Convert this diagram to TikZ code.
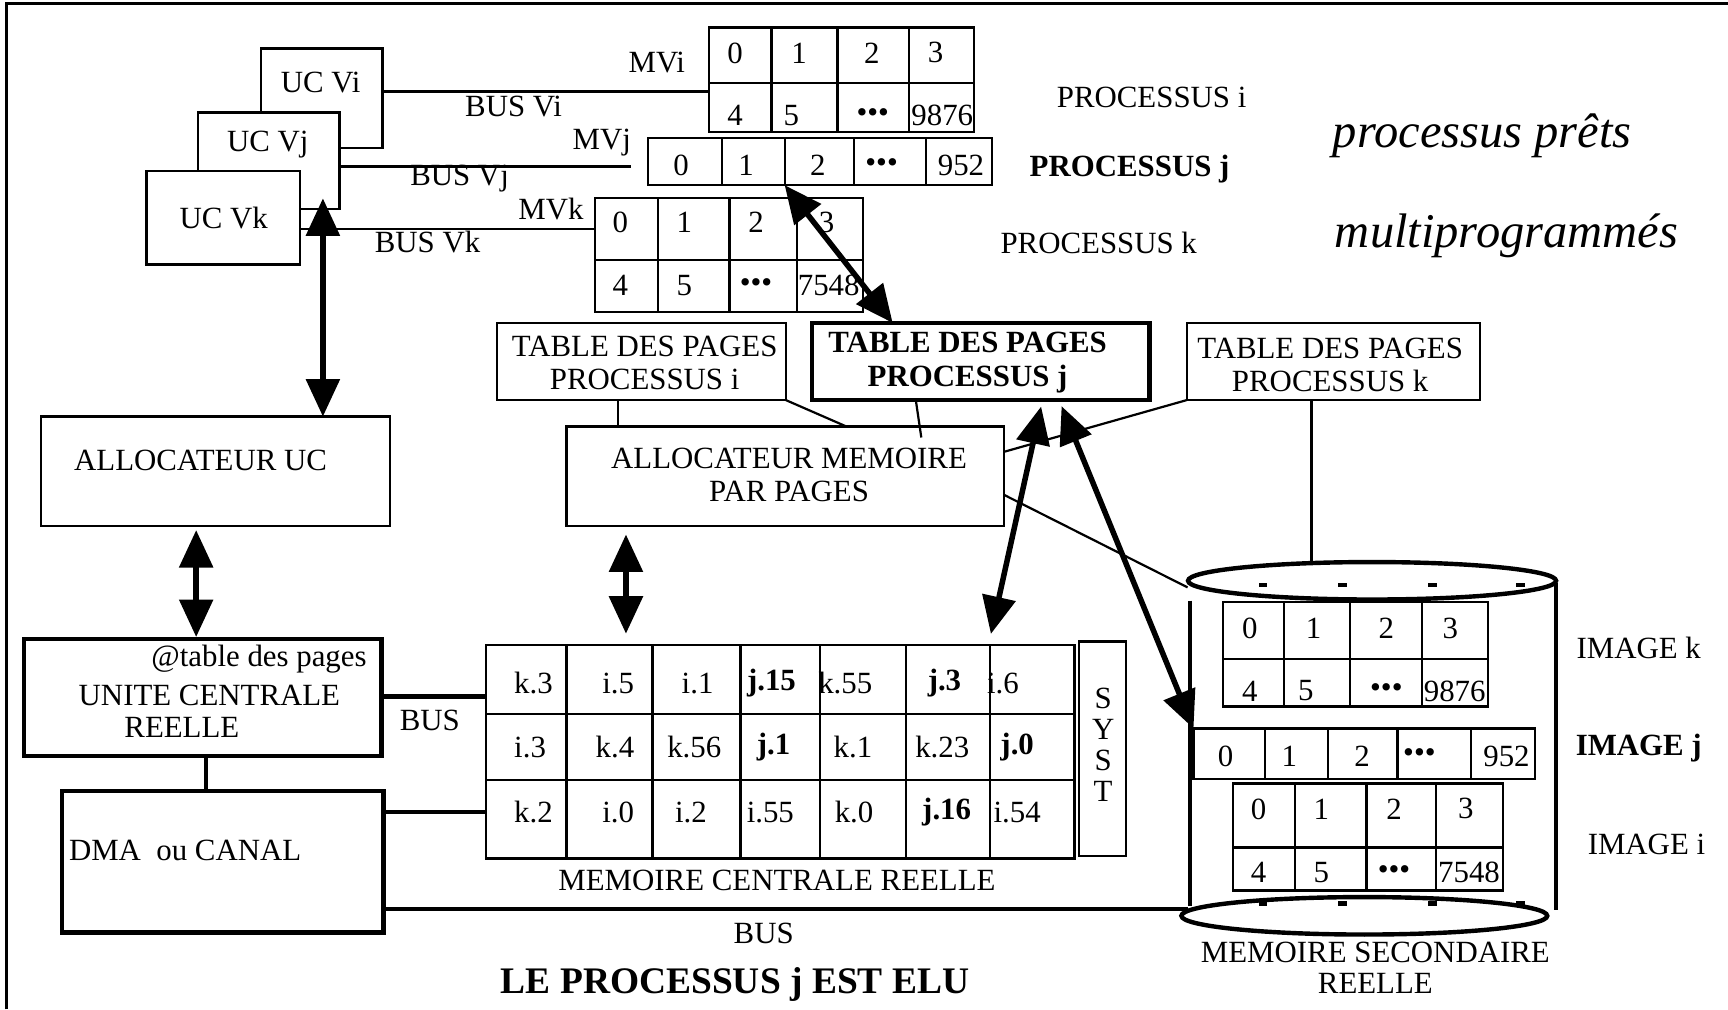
\documentclass[tikz,border=0pt]{standalone}
\usepackage{fontspec}
\setmainfont{Liberation Serif}
\usepackage{tikz}
\usetikzlibrary{arrows.meta,calc,fit,positioning}

\tikzset{
  plainbox/.style={draw,line width=1pt,fill=white,inner sep=0pt,outer sep=0pt},
  heavybox/.style={plainbox,line width=2pt},
  lbl/.style={inner sep=0pt,font=\fontsize{14}{15}\selectfont},
  boldlbl/.style={inner sep=0pt,font=\fontsize{14}{15}\selectfont\bfseries},
  bigit/.style={inner sep=0pt,font=\fontsize{22}{26}\selectfont\itshape},
  gridline/.style={line width=1pt},
  link/.style={line width=1pt},
  busline/.style={line width=2pt},
  dblarrow/.style={{Triangle[length=17pt,width=15pt]}-{Triangle[length=17pt,width=15pt]},line width=2.5pt},
}

\begin{document}
\begin{tikzpicture}[x=0.5pt,y=-0.5pt]
    \useasboundingbox (0,0) rectangle (1568,916);
    \draw[line width=1.5pt] (6,916) -- (6,3) -- (1568,3);

    % unites centrales virtuelles
    \node[plainbox,fit={(237,44) (347,134)}] (ucvi) {};
    \node[lbl] (tvi) at (291,75) {UC Vi};
    \node[plainbox,fit={(180,102) (308,190)}] (ucvj) {};
    \node[lbl] (tvj) at (243,131) {UC Vj};
    \node[plainbox,fit={(133,155) (272,240)}] (ucvk) {};
    \node[lbl] (tvk) at (203,198) {UC Vk};

    % memoires virtuelles
    \node[plainbox,fit={(643,25) (884,120)}] (mvi) {};
    \draw[gridline] (mvi.west |- 0,75) -- (mvi.east |- 0,75);
    \foreach \x in {700,760,825} \draw[gridline] (mvi.north -| \x,0) -- (mvi.south -| \x,0);
    \foreach \x/\t [count=\n] in {667/0,725/1,791/2,849/3} \node[lbl] (mvia\n) at (\x,48) {\t};
    \foreach \x/\t [count=\n] in {667/4,718/5,792/•••,855/9876} \node[lbl] (mvib\n) at (\x,105) {\t};

    \node[plainbox,fit={(588,125) (900,168)}] (mvj) {};
    \foreach \x in {655,712,775,840} \draw[gridline] (mvj.north -| \x,0) -- (mvj.south -| \x,0);
    \foreach \x/\t [count=\n] in {618/0,677/1,742/2,800/•••,872/952} \node[lbl] (mvja\n) at (\x,150) {\t};

    \node[plainbox,fit={(540,180) (783,283)}] (mvk) {};
    \draw[gridline] (mvk.west |- 0,236) -- (mvk.east |- 0,236);
    \foreach \x in {597,662,723} \draw[gridline] (mvk.north -| \x,0) -- (mvk.south -| \x,0);
    \foreach \x/\t [count=\n] in {563/0,621/1,686/2,750/3} \node[lbl] (mvka\n) at (\x,202) {\t};
    \foreach \x/\t [count=\n] in {563/4,621/5,686/•••,752/7548} \node[lbl] (mvkb\n) at (\x,259) {\t};

    \node[lbl] (lmvi) at (596,57) {MVi};
    \node[lbl] (lmvj) at (546,129) {MVj};
    \node[lbl] (lmvk) at (500,190) {MVk};
    \coordinate (mvjend) at (573,151);
    \draw[link] (ucvi.east |- 0,83) -- (mvi.west |- 0,83);
    \draw[link] (ucvj.east |- 0,151) -- (mvjend);
    \draw[link] (ucvk.east |- 0,208) -- (mvk.west |- 0,208);
    \node[lbl] (bvi) at (466,97) {BUS Vi};
    \node[lbl] (bvj) at (417,162) {BUS Vj};
    \node[lbl] (bvk) at (388,220) {BUS Vk};

    \node[lbl] (pi) at (1045,88) {PROCESSUS i};
    \node[boldlbl] (pj) at (1025,153) {PROCESSUS j};
    \node[lbl] (pk) at (997,220) {PROCESSUS k};
    \node[bigit] (prets) at (1345,123) {processus prêts};
    \node[bigit] (multi) at (1367,214) {multiprogrammés};

    % tables des pages et allocateurs
    \node[plainbox,fit={(451,293) (713,363)}] (tdpi) {};
    \node[lbl,align=center] (ttdpi) at (585,329) {TABLE DES PAGES\\PROCESSUS i};
    \node[heavybox,fit={(737,293) (1043,363)}] (tdpj) {};
    \node[boldlbl,align=center] (ttdpj) at (878,329) {TABLE DES PAGES\\PROCESSUS j};
    \node[plainbox,fit={(1077,293) (1343,363)}] (tdpk) {};
    \node[lbl,align=center] (ttdpk) at (1207,331) {TABLE DES PAGES\\PROCESSUS k};
    \node[plainbox,fit={(37,378) (354,477)}] (allocuc) {};
    \node[lbl] (tallocuc) at (182,418) {ALLOCATEUR UC};
    \node[plainbox,fit={(514,387) (911,477)}] (allocmem) {};
    \node[lbl,align=center] (tallocmem) at (716,431) {ALLOCATEUR MEMOIRE\\PAR PAGES};

    % machine reelle
    \node[heavybox,fit={(22,580) (346,686)}] (ucr) {};
    \node[lbl] (tadr) at (235,598) {@table des pages};
    \node[lbl] (tucr) at (190,631) {UNITE CENTRALE};
    \node[lbl] (tucr2) at (165,660) {REELLE};
    \node[heavybox,fit={(56,718) (348,846)}] (dma) {};
    \node[lbl] (tdma) at (168,772) {DMA\ \ ou CANAL};

    \node[plainbox,fit={(441,585) (975,779)}] (mem) {};
    \foreach \y in {648,708} \draw[gridline] (mem.west |- 0,\y) -- (mem.east |- 0,\y);
    \foreach \x in {514,592,672,744,822,898} \draw[gridline] (mem.north -| \x,0) -- (mem.south -| \x,0);
    \foreach \x/\t [count=\n] in {484/k.3,561/i.5,633/i.1,700/{\textbf{j.15}},767/k.55,857/{\textbf{j.3}},910/i.6}
      \node[lbl] (mema\n) at (\x,620) {\t};
    \foreach \x/\t [count=\n] in {481/i.3,558/k.4,630/k.56,702/{\textbf{j.1}},774/k.1,855/k.23,923/{\textbf{j.0}}}
      \node[lbl] (memb\n) at (\x,678) {\t};
    \foreach \x/\t [count=\n] in {484/k.2,561/i.0,627/i.2,699/i.55,775/k.0,859/{\textbf{j.16}},923/i.54}
      \node[lbl] (memc\n) at (\x,737) {\t};
    \node[plainbox,fit={(979,582) (1022,777)}] (syst) {};
    \node[lbl,align=center,font=\fontsize{14}{14}\selectfont] (tsyst) at (1001,676) {S\\Y\\S\\T};
    \node[lbl] (tmem) at (705,799) {MEMOIRE CENTRALE REELLE};

    % memoire secondaire
    \node[inner sep=0pt,fit={(1078,510) (1412,848)}] (disk) {};
    \draw[line width=2pt] (1245,527) ellipse [x radius=83.5pt,y radius=8.5pt];
    \draw[line width=2pt] (1238,831) ellipse [x radius=83pt,y radius=8.5pt];
    \draw[line width=2pt] (1080,545) -- (1080,822);
    \draw[line width=2pt] (1412,529) -- (1412,826);
    \foreach \x in {1146,1218,1300,1380} {
      \fill (\x-4,529) rectangle (\x+4,533);
      \fill (\x-4,818) rectangle (\x+4,822);
    }
    \node[plainbox,fit={(1110,546) (1350,641)}] (imk) {};
    \draw[gridline] (imk.west |- 0,598) -- (imk.east |- 0,598);
    \foreach \x in {1165,1225,1290} \draw[gridline] (imk.north -| \x,0) -- (imk.south -| \x,0);
    \foreach \x/\t [count=\n] in {1134/0,1192/1,1258/2,1316/3} \node[lbl] (imka\n) at (\x,570) {\t};
    \foreach \x/\t [count=\n] in {1134/4,1185/5,1258/•••,1320/9876} \node[lbl] (imkb\n) at (\x,627) {\t};

    \node[plainbox,fit={(1083,661) (1393,707)}] (imj) {};
    \foreach \x in {1148,1205,1268,1335} \draw[gridline] (imj.north -| \x,0) -- (imj.south -| \x,0);
    \foreach \x/\t [count=\n] in {1112/0,1170/1,1236/2,1288/•••,1367/952} \node[lbl] (imja\n) at (\x,686) {\t};

    \node[plainbox,fit={(1119,711) (1364,808)}] (imi) {};
    \draw[gridline] (imi.west |- 0,769) -- (imi.east |- 0,769);
    \foreach \x in {1175,1240,1303} \draw[gridline] (imi.north -| \x,0) -- (imi.south -| \x,0);
    \foreach \x/\t [count=\n] in {1142/0,1199/1,1265/2,1330/3} \node[lbl] (imia\n) at (\x,734) {\t};
    \foreach \x/\t [count=\n] in {1142/4,1199/5,1265/•••,1333/7548} \node[lbl] (imib\n) at (\x,792) {\t};

    \node[lbl] (limk) at (1487,588) {IMAGE k};
    \node[boldlbl] (limj) at (1487,679) {IMAGE j};
    \node[lbl] (limi) at (1494,766) {IMAGE i};
    \node[lbl,align=center,font=\fontsize{14}{14}\selectfont] (tdisk) at (1248,878) {MEMOIRE SECONDAIRE\\REELLE};

    % liaisons
    \coordinate (memin) at (836,397);
    \draw[link] (tdpi.south -| 561,0) -- (allocmem.north -| 561,0);
    \draw[link] (tdpi.south east) -- (allocmem.north -| 768,0);
    \draw[link] (tdpj.south -| 831,0) -- (memin);
    \draw[link] (tdpk.south west) -- (allocmem.east |- 0,410);
    \draw[link] (allocmem.east |- 0,449) -- (disk.north west |- 0,533);
    \draw[link] (tdpk.south -| 1190,0) -- (disk.north -| 1190,0);

    \draw[busline] (ucr.east |- 0,632) -- (mem.west |- 0,632);
    \draw[busline] (dma.east |- 0,737) -- (mem.west |- 0,737);
    \draw[busline] (ucr.south -| 187,0) -- (dma.north -| 187,0);
    \draw[busline] (dma.east |- 0,825) -- (disk.west |- 0,825);
    \node[lbl] (lbus1) at (390,654) {BUS};
    \node[lbl] (lbus2) at (693,847) {BUS};

    \coordinate (uctip) at (293,180);
    \draw[dblarrow] (uctip) -- (allocuc.north -| uctip);
    \draw[dblarrow,shorten <=2pt,shorten >=1pt] (allocuc.south -| 178,0) -- (ucr.north -| 178,0);
    \draw[dblarrow,shorten <=4pt,shorten >=5pt] (allocmem.south -| 568,0) -- (mem.north -| 568,0);
    \draw[dblarrow] (mvj.south -| 712,0) -- (tdpj.north -| 810,0);
    \draw[dblarrow,shorten <=3pt,shorten >=5pt] (tdpj.south -| 946,0) -- (mem.north -| 897,0);
    \draw[dblarrow,shorten <=3pt] (tdpj.south -| 961,0) -- (imj.north west);

    \node[lbl,font=\fontsize{17}{19}\selectfont\bfseries] (titre) at (667,893) {LE PROCESSUS j EST ELU};
\end{tikzpicture}
\end{document}
